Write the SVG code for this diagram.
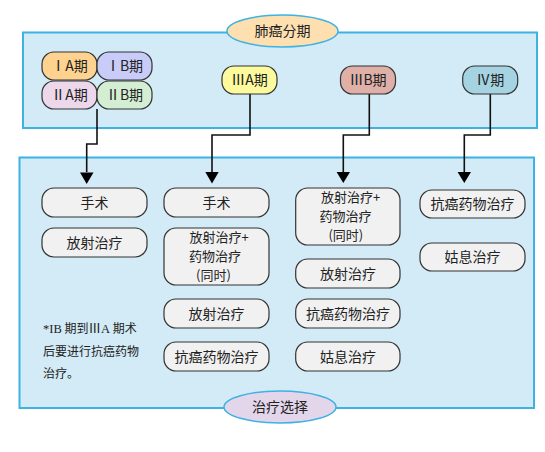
<svg xmlns="http://www.w3.org/2000/svg" width="545" height="452" viewBox="0 0 545 452">
<defs>
<style>
.panel{fill:#d3ebf7;stroke:#3db2e3;stroke-width:2}
.oval{stroke:#3db2e3;stroke-width:1.5}
.stage{stroke:#333;stroke-width:1.2}
.tx{fill:#f1f1f1;stroke:#333;stroke-width:1.2}
text{font-family:"Noto Sans CJK SC","Noto Sans",sans-serif;font-size:14px;fill:#222;text-anchor:middle}
.multi{font-size:13px}
.note{text-anchor:start;font-size:12px}
.ser{font-family:"Liberation Serif","Noto Sans CJK SC",serif;font-size:12.5px}
.conn{fill:none;stroke:#111;stroke-width:1.6}
</style>
</defs>
<rect width="545" height="452" fill="#fff"/>

<g id="staging-panel">
<rect class="panel" x="23" y="32.5" width="514" height="95.5"/>
</g>
<g id="treatment-panel">
<rect class="panel" x="19.5" y="157.5" width="514.5" height="250.5"/>
</g>

<g id="connectors">
<path class="conn" d="M97,109 V144 H86.7 V172"/>
<polygon points="80,172.5 93.5,172.5 86.7,184" fill="#000"/>
<path class="conn" d="M250,94 V135 H212 V172"/>
<polygon points="205.3,172 218.7,172 212,183.5" fill="#000"/>
<path class="conn" d="M369.3,94 V135 H343.3 V172"/>
<polygon points="336.6,172 350,172 343.3,183" fill="#000"/>
<path class="conn" d="M490.3,94 V135 H464.3 V172"/>
<polygon points="457.6,172 471,172 464.3,183" fill="#000"/>
</g>

<g id="title-staging">
<ellipse class="oval" cx="282.5" cy="31" rx="55.5" ry="16" fill="#fddfb0"/>
<text x="282.5" y="36">肺癌分期</text>
</g>
<g id="title-treatment">
<ellipse class="oval" cx="280" cy="407" rx="56" ry="16" fill="#e3d6ea"/>
<text x="280" y="412">治疗选择</text>
</g>

<g id="stage-IA"><rect class="stage" x="42" y="52" width="55" height="28" rx="12" fill="#fdd38f"/><text x="69.5" y="71">ⅠA期</text></g>
<g id="stage-IB"><rect class="stage" x="97" y="52" width="55" height="28" rx="12" fill="#c9cbf8"/><text x="124.5" y="71">ⅠB期</text></g>
<g id="stage-IIA"><rect class="stage" x="42" y="81" width="55" height="28" rx="12" fill="#ecd7eb"/><text x="69.5" y="100">ⅡA期</text></g>
<g id="stage-IIB"><rect class="stage" x="97" y="81" width="55" height="28" rx="12" fill="#d4eed4"/><text x="124.5" y="100">ⅡB期</text></g>
<g id="stage-IIIA"><rect class="stage" x="222" y="66" width="55" height="28" rx="12" fill="#fdfa9d"/><text x="249.5" y="85">ⅢA期</text></g>
<g id="stage-IIIB"><rect class="stage" x="340.5" y="66" width="55" height="28" rx="12" fill="#dfb0a8"/><text x="368" y="85">ⅢB期</text></g>
<g id="stage-IV"><rect class="stage" x="462.7" y="66" width="55" height="28" rx="12" fill="#a6d3e2"/><text x="490.2" y="85">Ⅳ期</text></g>

<g id="c1-surgery"><rect class="tx" x="42" y="188" width="105" height="29" rx="12"/><text x="94.5" y="207.5">手术</text></g>
<g id="c1-radio"><rect class="tx" x="42" y="228" width="105" height="29" rx="12"/><text x="94.5" y="247.5">放射治疗</text></g>

<g id="c2-surgery"><rect class="tx" x="164" y="188" width="105" height="29" rx="12"/><text x="216.5" y="207.5">手术</text></g>
<g id="c2-combo"><rect class="tx" x="164" y="228" width="105" height="57" rx="12"/><text class="multi" y="242"><tspan x="219">放射治疗+</tspan><tspan x="215" dy="19">药物治疗</tspan><tspan x="213.5" dy="19">(同时)</tspan></text></g>
<g id="c2-radio"><rect class="tx" x="164" y="299" width="105" height="29" rx="12"/><text x="216.5" y="318.5">放射治疗</text></g>
<g id="c2-drug"><rect class="tx" x="164" y="342" width="105" height="29" rx="12"/><text x="216.5" y="361.5">抗癌药物治疗</text></g>

<g id="c3-combo"><rect class="tx" x="295.7" y="188" width="104.3" height="57" rx="12"/><text class="multi" y="202"><tspan x="350.5">放射治疗+</tspan><tspan x="345.5" dy="19">药物治疗</tspan><tspan x="345.8" dy="19">(同时)</tspan></text></g>
<g id="c3-radio"><rect class="tx" x="295.7" y="259" width="104.3" height="29" rx="12"/><text x="348" y="278.5">放射治疗</text></g>
<g id="c3-drug"><rect class="tx" x="295.7" y="299" width="104.3" height="29" rx="12"/><text x="348" y="318.5">抗癌药物治疗</text></g>
<g id="c3-palliative"><rect class="tx" x="295.7" y="342" width="104.3" height="29" rx="12"/><text x="348" y="361.5">姑息治疗</text></g>

<g id="c4-drug"><rect class="tx" x="420" y="190" width="105" height="28" rx="12"/><text x="472.5" y="209">抗癌药物治疗</text></g>
<g id="c4-palliative"><rect class="tx" x="420" y="243" width="105" height="28" rx="12"/><text x="472.5" y="262">姑息治疗</text></g>

<g id="note">
<text class="note" x="43" y="333"><tspan class="ser">*IB</tspan> 期到<tspan class="ser">ⅢA</tspan> 期术</text>
<text class="note" x="43" y="356">后要进行抗癌药物</text>
<text class="note" x="43" y="378">治疗。</text>
</g>
</svg>
